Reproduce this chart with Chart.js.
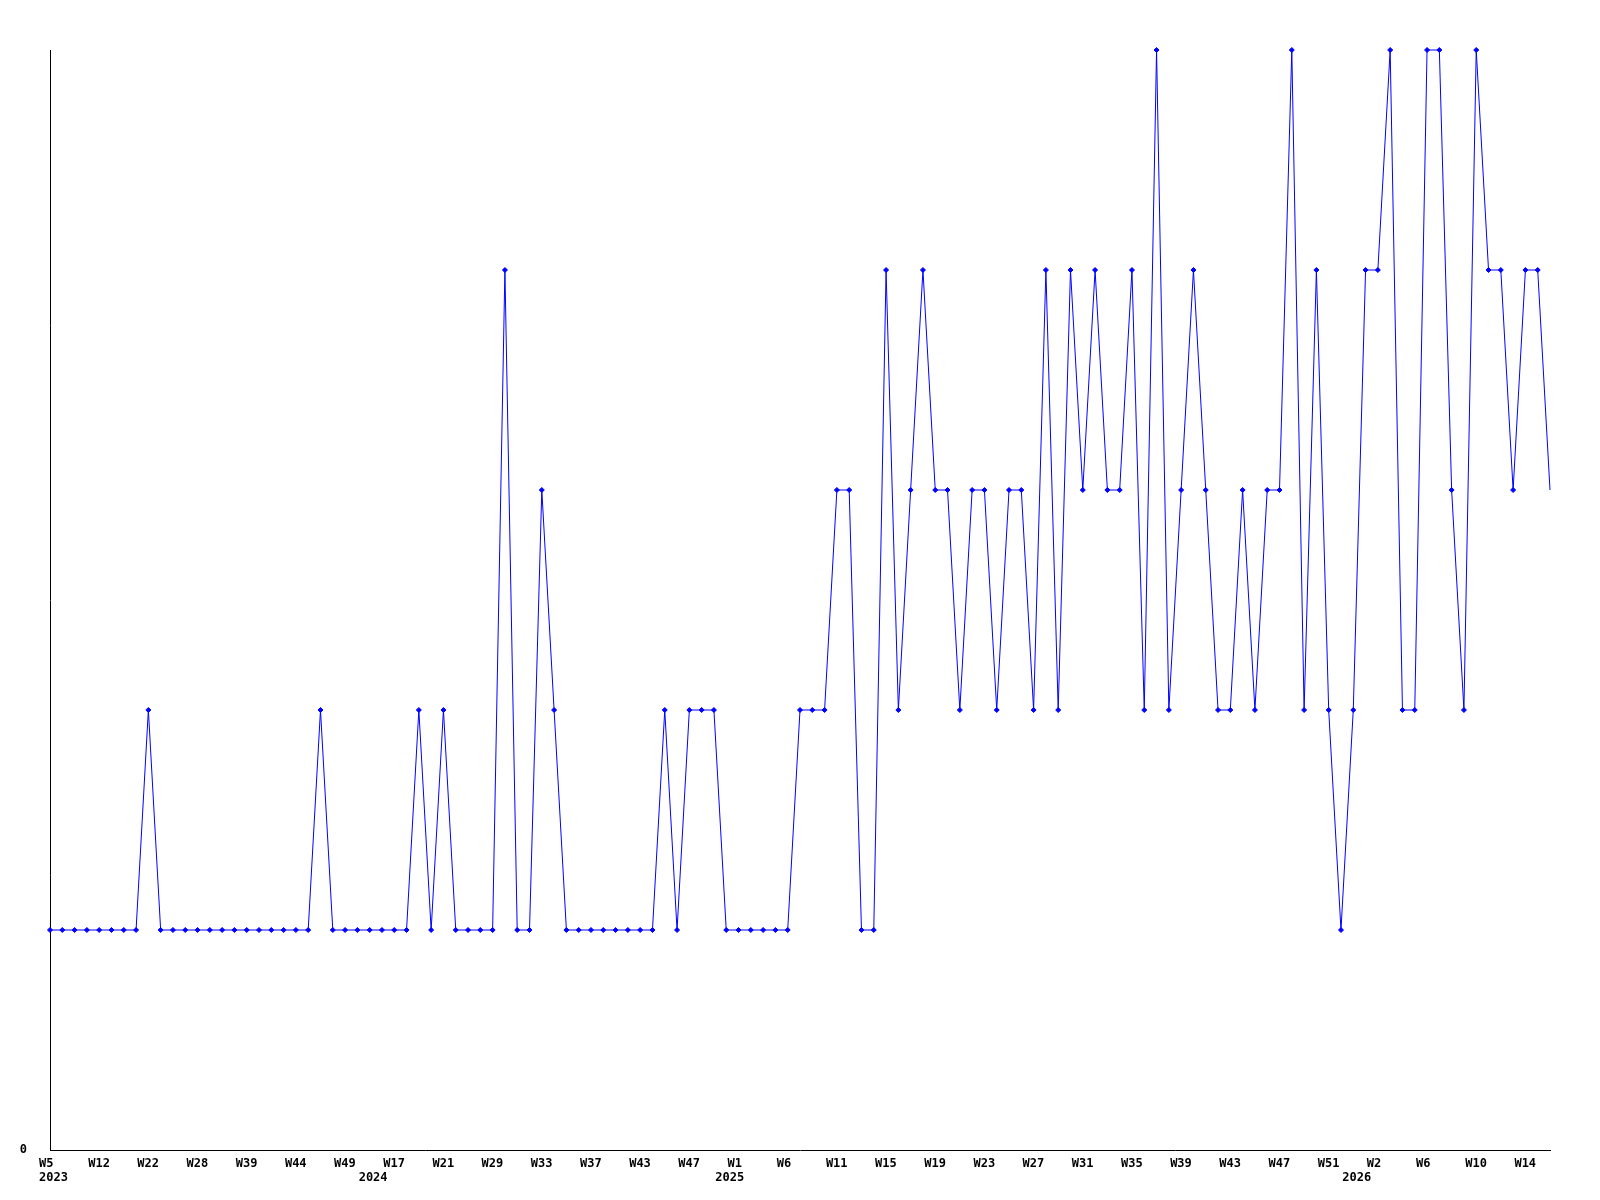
<!DOCTYPE html>
<html><head><meta charset="utf-8">
<script src="https://cdn.jsdelivr.net/npm/chart.js@4.4.1/dist/chart.umd.min.js"></script>
<style>html,body{margin:0;padding:0;background:#fff}canvas{display:block}</style>
</head><body>
<canvas id="c" width="1600" height="1200"></canvas>
<script>
// Week labels per year (week numbering starts at W0)
const weeks2023 = ['W5','W7','W9','W10','W12','W14','W16','W19','W22','W23','W24','W26','W28','W30','W33','W36','W39','W40','W41','W42','W44','W45','W46','W48','W49','W51'];
const weeks2024 = ['W3','W10','W17','W18','W19','W20','W21','W23','W25','W27','W29','W30','W31','W32','W33','W34','W35','W36','W37','W39','W41','W42','W43','W44','W45','W46','W47','W49','W51'];
const weeks2025 = ['W0','W1','W2','W3','W5','W6','W7','W8','W10','W11','W12','W13','W14','W15','W16','W17','W18','W19','W20','W21','W22','W23','W24','W25','W26','W27','W28','W29','W30','W31','W32','W33','W34','W35','W36','W37','W38','W39','W40','W41','W42','W43','W44','W45','W46','W47','W48','W49','W50','W51','W52'];
const weeks2026 = ['W0','W1','W2','W3','W4','W5','W6','W7','W8','W9','W10','W11','W12','W13','W14','W15','W16'];
const yearNames = ['2023','2024','2025','2026'];

// Series values (one per week)
const values2023 = [1,1,1,1,1,1,1,1,2,1,1,1,1,1,1,1,1,1,1,1,1,1,2,1,1,1];
const values2024 = [1,1,1,1,2,1,2,1,1,1,1,4,1,1,3,2,1,1,1,1,1,1,1,1,2,1,2,2,2];
const values2025 = [1,1,1,1,1,1,2,2,2,3,3,1,1,4,2,3,4,3,3,2,3,3,2,3,3,2,4,2,4,3,4,3,3,4,2,5,2,3,4,3,2,2,3,2,3,3,5,2,4,2,1];
const values2026 = [2,4,4,5,2,2,5,5,3,2,5,4,4,3,4,4,3];

const weekGroups = [weeks2023, weeks2024, weeks2025, weeks2026];
const categories = [].concat(...weekGroups);
const values = [].concat(values2023, values2024, values2025, values2026);
const yearStart = [];
{ let acc = 0; weekGroups.forEach(g => { yearStart.push(acc); acc += g.length; }); }

const FONT = '"DejaVu Sans Mono", "Liberation Mono", monospace';

const yearLabelsPlugin = {
  id: 'yearLabels',
  afterDraw(chart) {
    const xs = chart.scales.x;
    const ctx = chart.ctx;
    ctx.save();
    ctx.font = 'bold 12px ' + FONT;
    ctx.fillStyle = '#000';
    ctx.textAlign = 'left';
    ctx.textBaseline = 'top';
    yearNames.forEach((y, i) => {
      const px = xs.getPixelForValue(yearStart[i]);
      ctx.fillText(y, px - 11, xs.top + 22);
    });
    ctx.restore();
  }
};

new Chart(document.getElementById('c'), {
  type: 'line',
  data: {
    labels: categories,
    datasets: [{
      data: values,
      borderColor: '#0000ff',
      backgroundColor: '#0000ff',
      borderWidth: 1,
      tension: 0,
      fill: false,
      clip: false,
      pointStyle: 'rectRot',
      pointRadius: (c) => (c.dataIndex === values.length - 1 ? 0 : 2.5),
      pointBorderWidth: 1,
      pointBackgroundColor: '#0000ff',
      pointBorderColor: '#0000ff'
    }]
  },
  options: {
    responsive: false,
    animation: false,
    devicePixelRatio: 1,
    layout: { padding: { top: 50, right: 50, left: 0, bottom: 0 }, autoPadding: false },
    plugins: { legend: { display: false }, tooltip: { enabled: false } },
    scales: {
      x: {
        type: 'category',
        offset: false,
        grid: { display: false, drawTicks: false },
        border: { display: true, color: '#000', width: 1 },
        ticks: {
          autoSkip: false,
          maxRotation: 0,
          minRotation: 0,
          align: 'start',
          labelOffset: -11,
          padding: 7,
          color: '#000',
          font: { family: FONT, size: 12, weight: 'bold' },
          callback: function (value, index) {
            return index % 4 === 0 ? this.getLabelForValue(value) : '';
          }
        },
        afterFit: (s) => { s.height = 50; }
      },
      y: {
        min: 0,
        max: 5,
        grid: { display: false, drawTicks: false },
        border: { display: true, color: '#000', width: 1 },
        ticks: {
          stepSize: 1,
          padding: 23,
          color: '#000',
          font: { family: FONT, size: 12, weight: 'bold' },
          callback: (v) => (v === 0 ? '0' : '')
        },
        afterFit: (s) => { s.width = 50; }
      }
    }
  },
  plugins: [yearLabelsPlugin]
});
</script>
</body></html>
